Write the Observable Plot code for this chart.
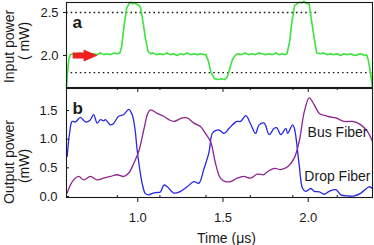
<!DOCTYPE html>
<html>
<head>
<meta charset="utf-8">
<script src="https://cdn.jsdelivr.net/npm/d3@7"></script>
<script src="https://cdn.jsdelivr.net/npm/@observablehq/plot@0.6"></script>
<style>
  html, body { margin: 0; padding: 0; background: #fff; }
  #chart { width: 374px; height: 245px; overflow: hidden; }
  #chart svg { display: block; }
</style>
</head>
<body>
<div id="chart"></div>
<script>
// ---------- data ----------
const xDomain = [0.582, 2.377];
const yDomainA = [1.628, 2.616];
const yDomainB = [-0.017, 1.884];

const xMajorTicks = [1.0, 1.5, 2.0];
const xMinorTicks = [0.88, 1.13, 1.40, 1.66, 1.91, 2.17];
const yTicksA = [2.0, 2.5];
const yTicksB = [0.0, 0.5, 1.0, 1.5];

// dotted reference levels in panel a
const refLevels = [2.5, 1.8];
const refEnds = [2.05, 2.377];

// input power (green)
const inputT = [0.582,0.588,0.596,0.605,0.62,0.64,0.66,0.68,0.70,0.72,0.74,0.76,0.78,0.80,0.82,0.84,0.86,0.88,0.895,
  0.905,0.92,0.935,0.948,0.96,0.97,0.98,0.99,1.00,1.015,1.03,1.045,1.06,1.075,
  1.09,1.11,1.13,1.15,1.17,1.19,1.21,1.23,1.25,1.27,1.29,1.31,1.33,1.35,1.37,1.39,1.40,
  1.415,1.43,1.45,1.47,1.49,1.51,1.525,1.54,1.555,1.575,
  1.59,1.61,1.63,1.65,1.67,1.69,1.71,1.73,1.75,1.77,1.79,1.81,1.83,1.85,1.865,1.875,
  1.89,1.905,1.92,1.94,1.95,1.96,1.975,1.985,2.005,2.02,2.035,2.05,2.07,
  2.09,2.11,2.13,2.15,2.17,2.19,2.21,2.23,2.25,2.27,2.29,2.31,2.33,2.342,2.352,2.365,2.377];
const inputV = [1.63,1.80,1.96,2.01,2.02,2.01,2.03,2.01,2.02,2.00,2.02,2.01,2.03,2.01,2.02,2.01,2.03,2.02,2.03,
  2.10,2.35,2.55,2.60,2.62,2.60,2.61,2.60,2.59,2.57,2.40,2.20,2.05,2.02,
  2.03,2.01,2.02,2.01,2.03,2.01,2.02,2.00,2.02,2.01,2.03,2.01,2.02,2.01,2.02,2.01,2.01,
  1.93,1.80,1.73,1.72,1.73,1.72,1.75,1.85,1.95,2.01,
  2.02,2.01,2.03,2.01,2.02,2.01,2.03,2.02,2.01,2.02,2.01,2.03,2.01,2.02,2.01,2.02,
  2.15,2.40,2.58,2.61,2.62,2.61,2.63,2.61,2.60,2.40,2.20,2.03,2.02,
  2.03,2.01,2.02,2.01,2.02,2.00,2.02,2.01,2.02,2.00,2.01,2.02,2.00,2.01,1.95,1.80,1.63];

// output power, bus fiber (blue)
const busT = [0.586,0.600,0.615,0.634,0.664,0.693,0.720,0.741,0.762,0.781,0.800,0.810,0.840,0.857,0.888,0.918,0.947,0.967,0.985,0.996,
  1.026,1.045,1.065,1.09,1.114,1.133,1.153,1.173,1.211,1.251,1.290,1.329,1.358,1.387,1.417,1.437,1.456,1.478,1.507,1.536,
  1.566,1.583,1.603,1.634,1.661,1.691,1.712,1.742,1.771,1.800,1.815,1.839,1.869,1.879,1.908,1.918,1.947,1.967,1.986,2.015,
  2.035,2.065,2.094,2.123,2.162,2.191,2.231,2.270,2.309,2.358,2.377];
const busV = [0.70,1.10,1.31,1.30,1.38,1.30,1.33,1.43,1.28,1.34,1.32,1.34,1.25,1.27,1.40,1.43,1.52,1.43,1.15,0.82,
  0.23,0.05,0.03,0.06,0.07,0.08,0.20,0.17,0.06,0.09,0.17,0.26,0.23,0.47,0.76,1.10,1.15,1.16,1.10,1.19,
  1.28,1.31,1.31,1.41,1.27,1.10,1.25,1.28,1.08,1.19,1.20,1.08,1.19,1.10,1.25,1.20,0.55,0.14,0.09,0.14,
  0.09,0.08,0.04,0.09,0.12,0.03,0.01,0.01,0.06,0.17,0.14];

// output power, drop fiber (purple)
const dropT = [0.586,0.605,0.624,0.654,0.683,0.722,0.762,0.800,0.840,0.879,0.918,0.947,0.977,1.006,1.035,1.059,1.075,
  1.114,1.153,1.182,1.211,1.261,1.290,1.329,1.368,1.397,1.427,1.456,1.485,1.515,1.544,1.583,1.622,1.661,1.701,1.739,
  1.751,1.800,1.839,1.879,1.918,1.947,1.977,2.006,2.035,2.065,2.113,2.162,2.211,2.260,2.309,2.348,2.377];
const dropV = [0.06,0.20,0.29,0.35,0.29,0.35,0.29,0.32,0.35,0.38,0.35,0.41,0.58,0.79,1.16,1.45,1.51,
  1.45,1.40,1.34,1.31,1.37,1.37,1.28,1.22,1.10,0.96,0.58,0.32,0.26,0.26,0.32,0.35,0.32,0.39,0.38,
  0.41,0.49,0.47,0.52,0.67,0.96,1.48,1.72,1.60,1.45,1.40,1.37,1.31,1.31,1.25,1.13,0.96];

// red arrow (start point)
const arrowStart = [{t: 0.618, v: 2.0}];

// labels
const labels = {a: "a", b: "b", bus: "Bus Fiber", drop: "Drop Fiber",
  yA1: "Input power", yA2: "( mW)", yB1: "Output power", yB2: "(mW)", x: "Time (μs)"};

// ---------- styles ----------
const FONT = "'Liberation Sans', Arial, Helvetica, sans-serif";
const INK = "#1a1a1a";
const GREEN = "#3ee23e";
const BLUE = "#2626e6";
const PURPLE = "#8e2290";
const RED = "#ee2020";

const W = 374, ML = 66, MR = 2;
const FW = W - ML - MR;

const inputData = inputT.map((t, i) => ({t, v: inputV[i]}));
const busData = busT.map((t, i) => ({t, v: busV[i]}));
const dropData = dropT.map((t, i) => ({t, v: dropV[i]}));
const refData = refLevels.map((v, i) => ({v, x1: xDomain[0], x2: refEnds[i]}));

const arrowShape = {
  draw(ctx, l) {
    const w = 3, hw = 6, hl = 14;
    ctx.moveTo(-w, 0);
    ctx.lineTo(-w, -(l - hl));
    ctx.lineTo(-hw, -(l - hl));
    ctx.lineTo(0, -l);
    ctx.lineTo(hw, -(l - hl));
    ctx.lineTo(w, -(l - hl));
    ctx.lineTo(w, 0);
    ctx.closePath();
  }
};

// ---------- panel a ----------
const HA = 88, MTA = 2, MBA = 1;
const plotA = Plot.plot({
  width: W, height: HA, marginTop: MTA, marginBottom: MBA, marginLeft: ML, marginRight: MR,
  style: {fontFamily: FONT, fontSize: "13px", color: INK, background: "transparent", overflow: "visible"},
  x: {domain: xDomain, axis: null},
  y: {domain: yDomainA, axis: null},
  marks: [
    Plot.ruleY(refData, {y: "v", x1: "x1", x2: "x2", stroke: INK, strokeWidth: 1.3, strokeDasharray: "1.6,3"}),
    Plot.line(inputData, {x: "t", y: "v", stroke: GREEN, strokeWidth: 1.6, curve: "linear"}),
    Plot.vector(arrowStart, {x: "t", y: "v", length: 25, rotate: 90, anchor: "start", shape: arrowShape, fill: RED, stroke: "none"}),
    Plot.axisY({ticks: yTicksA, tickSize: 3, tickPadding: 5, tickFormat: d3.format(".1f"), label: null, fontSize: 13, stroke: INK}),
    Plot.frame({stroke: INK, strokeWidth: 1.1}),
    Plot.text([labels.a], {frameAnchor: "top-left", dx: 6, dy: 25, lineAnchor: "bottom", textAnchor: "start", fontSize: 17, fontWeight: "bold", fill: INK}),
    Plot.text([labels.yA1], {frameAnchor: "left", dx: -57, dy: 1.5, rotate: -90, textAnchor: "middle", lineAnchor: "middle", fontSize: 14, fill: INK}),
    Plot.text([labels.yA2], {frameAnchor: "left", dx: -42, dy: -4, rotate: -90, textAnchor: "middle", lineAnchor: "middle", fontSize: 14, fill: INK})
  ]
});

// ---------- panel b ----------
const HB = 245 - 87, MTB = 0, MBB = 49;
const FHB = HB - MTB - MBB;
const plotB = Plot.plot({
  width: W, height: HB, marginTop: MTB, marginBottom: MBB, marginLeft: ML, marginRight: MR,
  style: {fontFamily: FONT, fontSize: "13px", color: INK, background: "transparent", overflow: "visible"},
  x: {domain: xDomain, axis: null},
  y: {domain: yDomainB, axis: null},
  marks: [
    Plot.line(busData, {x: "t", y: "v", stroke: BLUE, strokeWidth: 1.3, curve: "catmull-rom"}),
    Plot.line(dropData, {x: "t", y: "v", stroke: PURPLE, strokeWidth: 1.3, curve: "catmull-rom"}),
    Plot.axisX({ticks: xMajorTicks, tickSize: 5, tickPadding: 10, tickFormat: d3.format(".1f"), label: null, fontSize: 13, stroke: INK}),
    Plot.ruleX(xMajorTicks, {x: d => d, insetBottom: FHB - 4, stroke: INK}),
    Plot.ruleX(xMinorTicks, {x: d => d, insetTop: FHB - 2, stroke: INK}),
    Plot.ruleX(xMinorTicks, {x: d => d, insetBottom: FHB - 2, stroke: INK}),
    Plot.axisY({ticks: yTicksB, tickSize: 0, tickPadding: 9, tickFormat: d3.format(".1f"), label: null, fontSize: 13}),
    Plot.ruleY(yTicksB, {y: d => d, insetRight: FW - 3, stroke: INK}),
    Plot.frame({stroke: INK, strokeWidth: 1.1}),
    Plot.text([labels.b], {frameAnchor: "top-left", dx: 6, dy: 25, lineAnchor: "bottom", textAnchor: "start", fontSize: 17, fontWeight: "bold", fill: INK}),
    Plot.text([labels.bus], {frameAnchor: "top-right", dx: -5, dy: 44, lineAnchor: "middle", textAnchor: "end", fontSize: 14, fill: INK}),
    Plot.text([labels.drop], {frameAnchor: "top-right", dx: -2, dy: 88, lineAnchor: "middle", textAnchor: "end", fontSize: 14, fill: INK}),
    Plot.text([labels.x], {frameAnchor: "bottom", dx: 7, dy: 45, lineAnchor: "bottom", fontSize: 14, fill: INK}),
    Plot.text([labels.yB1], {frameAnchor: "left", dx: -57, dy: 19, rotate: -90, textAnchor: "middle", lineAnchor: "middle", fontSize: 14, fill: INK}),
    Plot.text([labels.yB2], {frameAnchor: "left", dx: -42, dy: 23, rotate: -90, textAnchor: "middle", lineAnchor: "middle", fontSize: 14, fill: INK})
  ]
});

const chart = document.getElementById("chart");
chart.appendChild(plotA);
chart.appendChild(plotB);
</script>
</body>
</html>
